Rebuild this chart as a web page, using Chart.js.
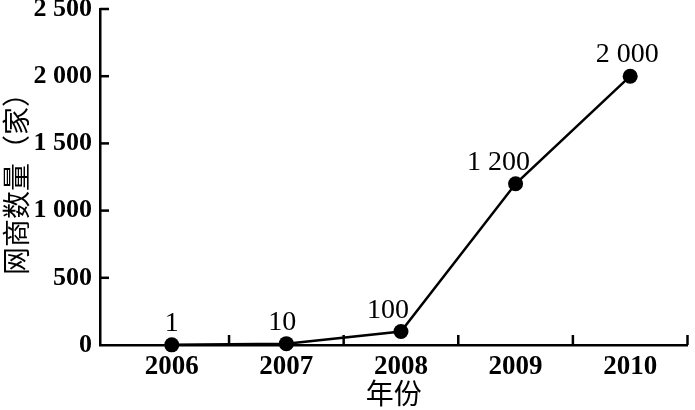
<!DOCTYPE html>
<html><head><meta charset="utf-8">
<script src="https://cdn.jsdelivr.net/npm/chart.js@4/dist/chart.umd.min.js"></script>
<style>html,body{margin:0;padding:0;background:#fff;} #wrap{width:695px;height:410px;}</style>
</head><body><div id="wrap"><canvas id="c" width="695" height="410"></canvas></div>
<script>
// ---- data ----
const years = [2006, 2007, 2008, 2009, 2010];
const merchants = [1, 10, 100, 1200, 2000];
const yTicks = [0, 500, 1000, 1500, 2000, 2500];
const yTitle = '网商数量（家）';
const xTitle = '年份';

// ---- helpers / styles ----
function fmt(v) {
  const s = String(v);
  return v >= 1000 ? s.slice(0, s.length - 3) + ' ' + s.slice(-3) : s;
}
const boundaryTicks = years.map(y => y + 0.5);
const labelShift = [0, -4, -13, -17, -3];

const inwardTicks = {
  id: 'inwardTicks',
  afterDraw(chart) {
    const ctx = chart.ctx, xs = chart.scales.x, ys = chart.scales.y;
    ctx.save();
    ctx.strokeStyle = '#000';
    ctx.lineWidth = 2.5;
    yTicks.forEach(v => {
      if (v === 0) return;
      const py = ys.getPixelForValue(v);
      ctx.beginPath(); ctx.moveTo(xs.left, py); ctx.lineTo(xs.left + 9, py); ctx.stroke();
    });
    boundaryTicks.forEach(v => {
      const px = xs.getPixelForValue(v);
      ctx.beginPath(); ctx.moveTo(px, ys.bottom); ctx.lineTo(px, ys.bottom - 10); ctx.stroke();
    });
    ctx.restore();
  }
};

const valueLabels = {
  id: 'valueLabels',
  afterDatasetsDraw(chart) {
    const ctx = chart.ctx;
    const meta = chart.getDatasetMeta(0);
    ctx.save();
    ctx.fillStyle = '#000';
    ctx.font = '28px "Liberation Serif"';
    ctx.textAlign = 'center';
    ctx.textBaseline = 'alphabetic';
    meta.data.forEach((pt, i) => {
      ctx.fillText(fmt(merchants[i]), pt.x + labelShift[i], pt.y - 14);
    });
    ctx.restore();
  }
};

new Chart(document.getElementById('c'), {
  type: 'line',
  data: {
    datasets: [{
      data: years.map((y, i) => ({ x: y, y: merchants[i] })),
      borderColor: '#000',
      borderWidth: 2.5,
      pointRadius: 7.5,
      pointBackgroundColor: '#000',
      pointBorderWidth: 0,
      tension: 0,
      clip: false
    }]
  },
  options: {
    responsive: false,
    animation: false,
    devicePixelRatio: 1,
    layout: { padding: { top: 9, right: 5, left: 0, bottom: 0 } },
    plugins: { legend: { display: false }, tooltip: { enabled: false } },
    scales: {
      x: {
        type: 'linear',
        min: 2005.374,
        max: 2010.5,
        afterBuildTicks(s) { s.ticks = years.map(v => ({ value: v })); },
        afterFit(s) { s.height = 65; s.paddingLeft = 0; s.paddingRight = 0; },
        ticks: {
          autoSkip: false, maxRotation: 0, padding: 6, color: '#000',
          font: { family: 'Liberation Serif', size: 27, weight: 'bold' },
          callback: v => String(v)
        },
        grid: { display: false, drawTicks: false },
        border: { display: true, color: '#000', width: 2.5 },
        title: {
          display: true, text: xTitle, color: '#000', padding: 0,
          font: { family: '"Noto Sans CJK SC"', size: 28 }
        }
      },
      y: {
        min: 0,
        max: 2500,
        afterBuildTicks(s) { s.ticks = yTicks.map(v => ({ value: v })); },
        afterFit(s) { s.width = 100; s.paddingTop = 0; s.paddingBottom = 0; },
        ticks: {
          padding: 8, color: '#000',
          font: { family: 'Liberation Serif', size: 26, weight: 'bold' },
          callback: v => fmt(v)
        },
        grid: { display: false, drawTicks: false },
        border: { display: true, color: '#000', width: 2.5 },
        title: {
          display: true, text: yTitle, color: '#000', padding: 0,
          font: { family: '"Noto Sans CJK SC"', size: 28 }
        }
      }
    }
  },
  plugins: [inwardTicks, valueLabels]
});
</script>
</body></html>
